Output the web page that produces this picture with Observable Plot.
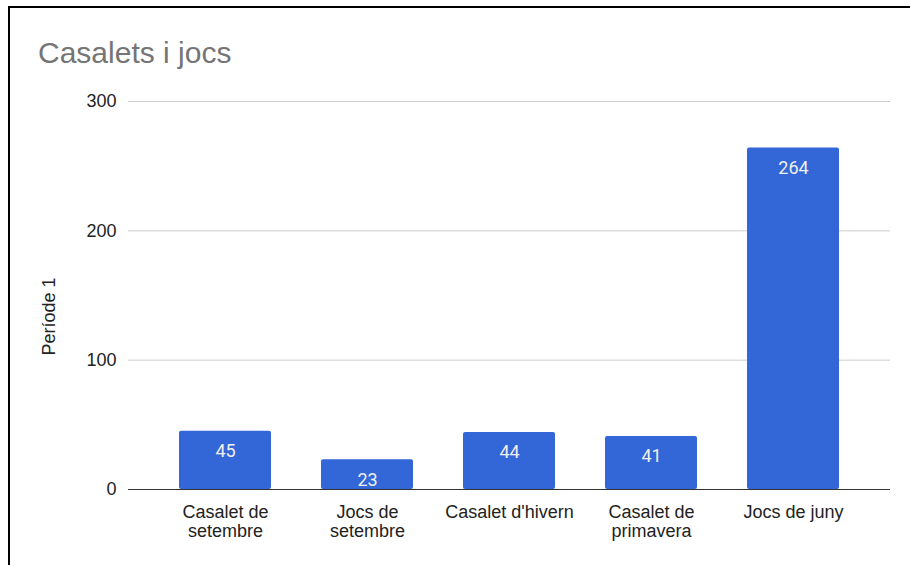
<!DOCTYPE html>
<html>
<head>
<meta charset="utf-8">
<script src="https://cdn.jsdelivr.net/npm/d3@7"></script>
<script src="https://cdn.jsdelivr.net/npm/@observablehq/plot@0.6"></script>
<style>
  html, body { margin: 0; padding: 0; background: #fff; }
  #wrap { position: relative; width: 910px; height: 565px; overflow: hidden; }
  #frame { position: absolute; left: 8px; top: 6px; width: 1000px; height: 700px; border-left: 2px solid #000; border-top: 2px solid #000; box-sizing: border-box; }
  #title { position: absolute; left: 38px; top: 38px; font-family: "Liberation Sans", Arial, sans-serif; font-size: 30px; line-height: 30px; color: #757575; white-space: nowrap; }
  #chart { position: absolute; left: 0; top: 0; }
</style>
</head>
<body>
<div id="wrap">
  <div id="frame"></div>
  <div id="chart"></div>
  <div id="title">Casalets i jocs</div>
</div>
<script>
const categories = ["Casalet de setembre", "Jocs de setembre", "Casalet d'hivern", "Casalet de primavera", "Jocs de juny"];
const tickLabels = ["Casalet de\nsetembre", "Jocs de\nsetembre", "Casalet d'hivern", "Casalet de\nprimavera", "Jocs de juny"];
const values = [45, 23, 44, 41, 264];
const yTicks = [0, 100, 200, 300];
const yLabel = "Període 1";

const data = categories.map((c, i) => ({category: c, value: values[i]}));
const labelOf = new Map(categories.map((c, i) => [c, tickLabels[i]]));

const chart = Plot.plot({
  width: 910,
  height: 565,
  marginLeft: 128,
  marginRight: 20,
  marginTop: 101,
  marginBottom: 76,
  style: {fontFamily: "'Liberation Sans', Arial, sans-serif", fontSize: "18px", color: "#222", background: "transparent"},
  x: {domain: categories, padding: 0.35, label: null},
  y: {domain: [0, 300], label: null},
  marks: [
    Plot.ruleY(yTicks.filter(d => d !== 0), {stroke: "#cccccc", strokeWidth: 1}),
    Plot.barY(data, {x: "category", y: "value", fill: "#3366d6", rx: 2}),
    Plot.ruleY([0], {stroke: "#333333", strokeWidth: 1}),
    Plot.text(data, {x: "category", y: "value", text: d => String(d.value), lineAnchor: "top", dy: 13, fill: "#f0f0f0", fontSize: 18, fontFamily: "Roboto, sans-serif"}),
    Plot.axisY({ticks: yTicks, tickSize: 0, tickPadding: 12, fontSize: 18, label: null}),
    Plot.axisX({tickSize: 0, tickPadding: 14, fontSize: 18, lineHeight: 1.1, tickFormat: d => labelOf.get(d), label: null}),
    Plot.text([yLabel], {frameAnchor: "left", textAnchor: "middle", lineAnchor: "middle", dx: -79.5, dy: 21, rotate: -90, text: d => d, fontSize: 18, fill: "#222"})
  ]
});
document.getElementById("chart").appendChild(chart);
</script>
</body>
</html>
